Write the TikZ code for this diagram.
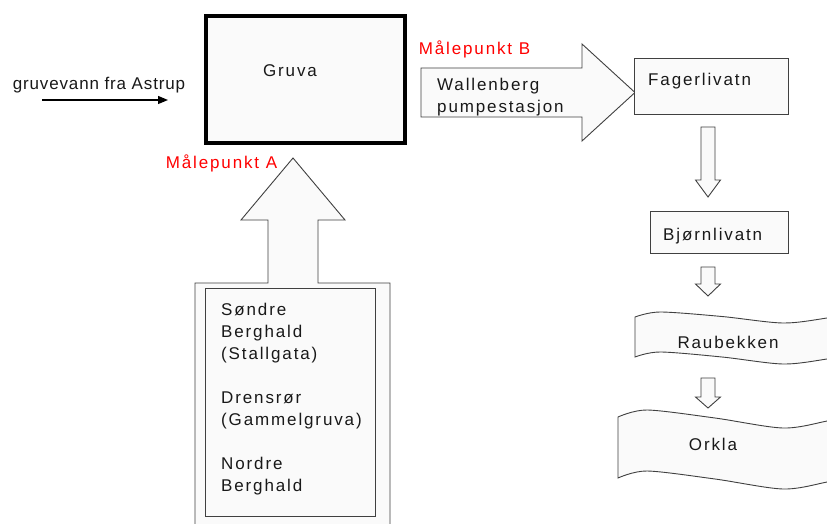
\documentclass[tikz,border=0pt]{standalone}
\usepackage{fontspec}
\setmainfont{Liberation Sans}[LetterSpace=11]
\usetikzlibrary{arrows.meta}
\tikzset{
  txt/.style={inner sep=0pt, font=\fontsize{17}{22}\selectfont, text=black!90},
  redtxt/.style={txt, text=red},
  outline/.style={draw=black!75, line width=0.9pt, fill=black!2, line join=miter},
  boxnode/.style={outline, inner sep=0pt},
}
\begin{document}
\begin{tikzpicture}[x=1pt,y=-1pt]
\useasboundingbox (0,0) rectangle (827,524);
\clip (0,0) rectangle (827,524);
\fill[white] (0,0) rectangle (827,524);

% Gruva
\node[draw=black, line width=3.5pt, fill=black!2, minimum width=199pt, minimum height=127pt, inner sep=0pt] (gruva) at (305.5,79.5) {};
\node[txt, anchor=base] (gruvatxt) at (290,77) {Gruva};

% inflow from Astrup
\node[txt, anchor=base, font=\fontsize{17}{22}\selectfont\addfontfeature{LetterSpace=5}] (astrup) at (99,90) {gruvevann fra Astrup};
\coordinate (inA) at (42,100);
\coordinate (inB) at (168,100);
\draw[line width=1.2pt, -{Triangle[length=10pt,width=8pt]}] (inA) -- (inB);

% up block arrow with source frame
\draw[outline] (195,535) -- (195,283) -- (268,283) -- (268,220) -- (241,220) -- (293,158) -- (345,220) -- (318,220) -- (318,283) -- (390,283) -- (390,535);
\node[boxnode, minimum width=170pt, minimum height=228pt] (sources) at (290,402) {};
\node[txt, align=left, anchor=base west] (srctxt) at (221,491) {Søndre\\Berghald\\(Stallgata)\\[22pt]Drensrør\\(Gammelgruva)\\[22pt]Nordre\\Berghald};
\node[redtxt, anchor=base] (mpA) at (221.5,168) {Målepunkt A};

% right block arrow
\draw[outline] (421,68) -- (582,68) -- (582,44) -- (635,92.5) -- (582,141) -- (582,117) -- (421,117) -- cycle;
\node[txt, align=left, anchor=base west] (wall) at (437,113) {Wallenberg\\pumpestasjon};
\node[redtxt, anchor=base] (mpB) at (474.5,55) {Målepunkt B};

% Fagerlivatn
\node[boxnode, minimum width=154pt, minimum height=56pt] (fager) at (711,86) {};
\node[txt, anchor=base west] (fagertxt) at (648,85.5) {Fagerlivatn};

% down arrow 1
\draw[outline] (701,127) -- (715,127) -- (715,180) -- (720.5,180) -- (708,197) -- (695.5,180) -- (701,180) -- cycle;

% Bjornlivatn
\node[boxnode, minimum width=138pt, minimum height=42pt] (bjorn) at (719,232) {};
\node[txt, anchor=base west] (bjorntxt) at (663,240) {Bjørnlivatn};

% down arrow 2
\draw[outline] (701,267) -- (715,267) -- (715,284) -- (720.5,284) -- (708,296) -- (695.5,284) -- (701,284) -- cycle;

% Raubekken banner
\draw[outline] plot[smooth] coordinates {(635,317) (660,312) (722,316.5) (783,323) (827,318) (860,312)}
  -- plot[smooth] coordinates {(860,353) (827,359) (783,364) (722,357) (660,352) (635,357)} -- cycle;
\node[txt, anchor=base] (raub) at (728,348) {Raubekken};

% down arrow 3
\draw[outline] (701,378) -- (715,378) -- (715,397) -- (720.5,397) -- (708,408) -- (695.5,397) -- (701,397) -- cycle;

% Orkla banner
\draw[outline] plot[smooth] coordinates {(618,417) (647,410) (715,418) (783,428) (827,421) (860,413)}
  -- plot[smooth] coordinates {(860,474) (827,482) (783,489) (715,479) (647,471) (618,478)} -- cycle;
\node[txt, anchor=base] (orkla) at (713,450) {Orkla};
\end{tikzpicture}
\end{document}
